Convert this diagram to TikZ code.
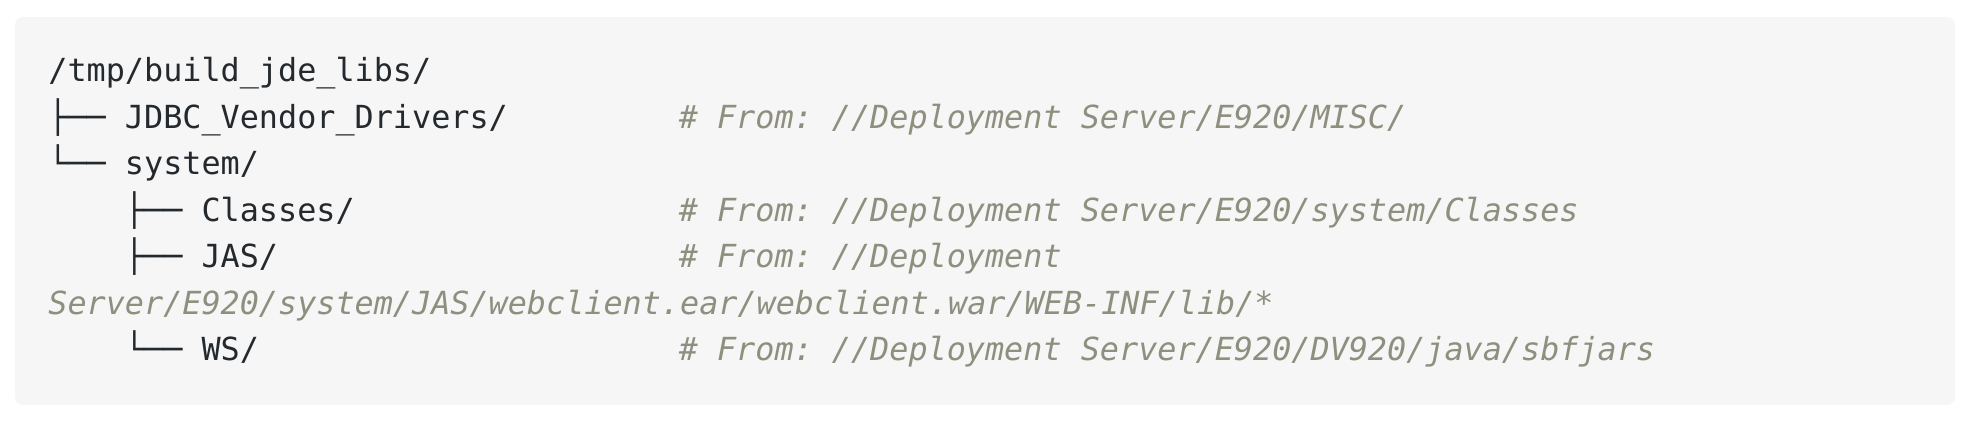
\documentclass[tikz,border=0pt]{standalone}
\usepackage{fontspec}
\setmonofont{DejaVu Sans Mono}
\usetikzlibrary{positioning}
\definecolor{codebg}{HTML}{F6F6F6}
\definecolor{codefg}{HTML}{24292E}
\definecolor{codecmt}{HTML}{8F8F7F}
\tikzstyle{code} = [anchor=base west, inner sep=0pt, font=\ttfamily\fontsize{15.9}{18}\selectfont, text=codefg]
\tikzstyle{cmt} = [code, text=codecmt, font=\ttfamily\itshape\fontsize{15.9}{18}\selectfont]

\begin{document}
\begin{tikzpicture}[x=1pt, y=1pt]
    % Frame.
    \useasboundingbox (0, 0) rectangle (986, 214);
    \fill [codebg, rounded corners=4pt] (7.5, 11.5) rectangle (977.5, 205.5);

    % Tree.
    \node (line 0) [code] at (24, 173) {/tmp/build\_jde\_libs/};
    \node (line 1) [code] at (24, 149.75) {├── JDBC\_Vendor\_Drivers/};
    \node (line 2) [code] at (24, 126.5) {└── system/};
    \node (line 3) [code] at (24, 103.25) {\hphantom{xxxx}├── Classes/};
    \node (line 4) [code] at (24, 80) {\hphantom{xxxx}├── JAS/};
    \node (line 5) [cmt] at (24, 56.75) {Server/E920/system/JAS/webclient.ear/webclient.war/WEB-INF/lib/*};
    \node (line 6) [code] at (24, 33.5) {\hphantom{xxxx}└── WS/};

    % Comments.
    \node (cmt 1) [cmt] at (339.2, 149.75) {\# From: //Deployment Server/E920/MISC/};
    \node (cmt 3) [cmt] at (339.2, 103.25) {\# From: //Deployment Server/E920/system/Classes};
    \node (cmt 4) [cmt] at (339.2, 80) {\# From: //Deployment};
    \node (cmt 6) [cmt] at (339.2, 33.5) {\# From: //Deployment Server/E920/DV920/java/sbfjars};
\end{tikzpicture}
\end{document}
